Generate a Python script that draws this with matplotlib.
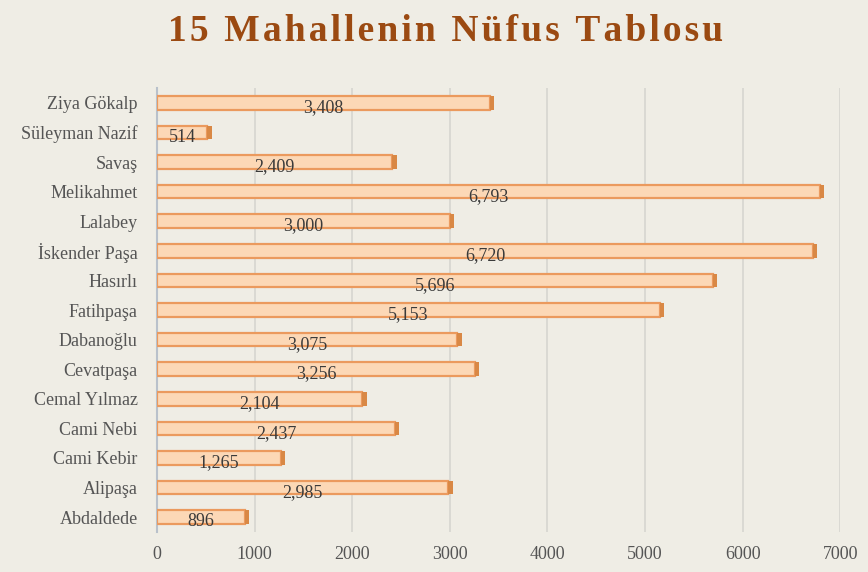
import matplotlib.pyplot as plt
from matplotlib.patches import Rectangle

# mahalle adlari (alttan uste)
mahalleler = ["Abdaldede", "Alipaşa", "Cami Kebir", "Cami Nebi", "Cemal Yılmaz",
              "Cevatpaşa", "Dabanoğlu", "Fatihpaşa", "Hasırlı", "İskender Paşa",
              "Lalabey", "Melikahmet", "Savaş", "Süleyman Nazif", "Ziya Gökalp"]
nufus = [896, 2985, 1265, 2437, 2104, 3256, 3075, 5153, 5696, 6720,
         3000, 6793, 2409, 514, 3408]
x_ticks = [0, 1000, 2000, 3000, 4000, 5000, 6000, 7000]
baslik = "15 Mahallenin Nüfus Tablosu"

bg = "#EFEDE5"
plt.rcParams["font.family"] = ["Liberation Serif", "DejaVu Serif"]

fig = plt.figure(figsize=(8.68, 5.72), dpi=100, facecolor=bg)
ax = fig.add_axes([0.181, 0.070, 0.787, 0.776], facecolor=bg)

y = list(range(len(mahalleler)))
bh = 0.46
ax.barh(y, nufus, height=bh, color="#FCD8B6", edgecolor="#EB9A5E",
        linewidth=1.6, zorder=3)
# 3D gorunumu icin bar sonundaki koyu kapak
for yi, v in zip(y, nufus):
    ax.add_patch(Rectangle((v, yi - bh / 2), 45, bh, facecolor="#D98845",
                           edgecolor="none", zorder=3))
    ax.text(v / 2, yi - 0.16, f"{v:,}", ha="center", va="center",
            fontsize=13, color="#3A3A3A", zorder=4)

ax.set_xlim(0, 7000)
ax.set_ylim(-0.5, len(mahalleler) - 0.5)
ax.set_xticks(x_ticks)
ax.set_yticks(y)
ax.set_yticklabels(mahalleler, fontsize=13)
ax.tick_params(axis="both", length=0, colors="#555555")
ax.tick_params(axis="x", labelsize=13, pad=10)
ax.tick_params(axis="y", pad=14)
ax.xaxis.grid(True, color="#D6D6D0", linewidth=1.2, zorder=0)
for s in ["top", "right", "bottom"]:
    ax.spines[s].set_visible(False)
ax.spines["left"].set_color("#B9C1CB")
ax.spines["left"].set_linewidth(1.5)

# harfler arasi bosluk icin ince bosluk
aralikli = "\u200a".join(baslik)
fig.text(0.513, 0.945, aralikli, ha="center", va="center",
         fontsize=27, fontweight="bold", color="#9B4A12")

fig.savefig("out.png", dpi=100, facecolor=bg)
